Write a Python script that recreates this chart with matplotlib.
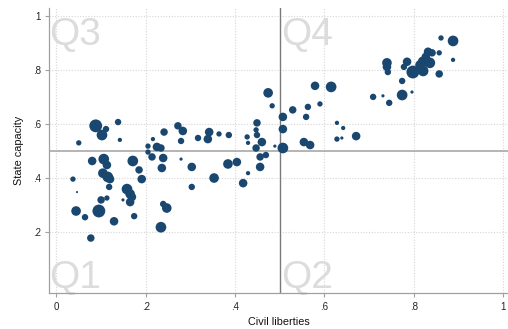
import numpy as np
import matplotlib
matplotlib.use("Agg")
import matplotlib.pyplot as plt

plt.rcParams['font.family'] = ['Liberation Sans', 'DejaVu Sans']

# civil liberties (x), state capacity (y), marker weight (population)
civil_liberties = [
    .050, .088, .102, .111, .138, .142, .205, .216, .225, .234, .241, .272, .283, .279,
    .317, .342, .339, .364, .386, .427, .429, .449, .447, .449, .460, .447, .474, .483, .489,
    .205, .214, .239, .236, .279, .080, .106, .113, .104, .115, .120, .171, .185, .191,
    .037, .118, .046, .158, .165, .169, .165, .149, .100, .113, .044, .064, .095, .174,
    .129, .234, .239, .247, .077, .303, .303, .353, .384, .404, .418, .429, .456, .469, .456,
    .507, .507, .507, .529, .563, .590, .559, .579, .615, .554, .568, .628, .642, .628, .639, .671,
    .709, .731, .745, .774, .796, .774, .740, .740, .742, .785, .778, .798, .821, .814,
    .821, .827, .832, .841, .857, .836, .857, .861, .888, .888,
]
state_capacity = [
    .529, .592, .558, .580, .606, .540, .517, .543, .514, .510, .569, .592, .573, .536,
    .547, .569, .543, .562, .558, .551, .529, .603, .577, .558, .532, .510, .714, .666, .517,
    .495, .477, .473, .436, .469, .462, .469, .447, .417, .403, .395, .462, .429, .395,
    .395, .366, .347, .358, .340, .329, .310, .318, .318, .325, .277, .254, .277, .258,
    .239, .217, .303, .288, .177, .440, .366, .399, .451, .458, .380, .417, .477, .484, .440,
    .510, .580, .625, .651, .662, .673, .625, .740, .736, .532, .521, .603, .584, .543, .547, .554,
    .699, .703, .677, .706, .717, .758, .825, .810, .791, .829, .810, .791, .795, .817,
    .829, .847, .866, .862, .862, .825, .784, .917, .906, .836,
]
pop_weight = [
    5, 12, 10, 6, 6, 4, 5, 4, 8, 7, 7, 7, 8, 6,
    6, 8, 8, 5, 6, 5, 4, 7, 5, 6, 8, 7, 9, 5, 3,
    5, 7, 8, 8, 3, 8, 10, 8, 9, 10, 8, 10, 7, 8,
    5, 6, 2, 10, 9, 8, 8, 3, 7, 5, 9, 6, 12, 6,
    8, 10, 6, 9, 7, 8, 6, 9, 9, 8, 8, 4, 7, 6, 8,
    10, 8, 8, 7, 6, 5, 6, 8, 10, 8, 8, 4, 4, 5, 3, 8,
    6, 3, 6, 10, 3, 6, 9, 8, 6, 8, 6, 12, 10, 9,
    10, 8, 8, 7, 5, 10, 7, 5, 10, 4,
]

x_ticks = [0, .2, .4, .6, .8, 1]
x_ticklabels = ['0', '.2', '.4', '.6', '.8', '1']
y_ticks = [.2, .4, .6, .8, 1]
y_ticklabels = ['.2', '.4', '.6', '.8', '1']

navy = '#1a476f'

fig = plt.figure(figsize=(5.08, 3.29), dpi=100)
ax = fig.add_axes([0.097, 0.108, 0.903, 0.867])

sizes = (np.array(pop_weight) * 0.77) ** 2
ax.scatter(civil_liberties, state_capacity, s=sizes, color=navy, linewidths=0, zorder=3)

ax.axhline(0.5, color='#a8a8a8', lw=1.2, zorder=2)
ax.axvline(0.5, color='#7a7a7a', lw=1.0, zorder=2)

# quadrant labels
qkw = dict(fontsize=28, color='#dcdcdc', va='baseline', ha='left', zorder=1)
ax.text(-0.016, 0.891, 'Q3', **qkw)
ax.text(0.503, 0.891, 'Q4', **qkw)
ax.text(-0.016, -0.009, 'Q1', **qkw)
ax.text(0.503, -0.009, 'Q2', **qkw)

ax.set_xlim(-0.016, 1.011)
ax.set_ylim(-0.028, 1.027)
ax.set_xticks(x_ticks)
ax.set_xticklabels(x_ticklabels)
ax.set_yticks(y_ticks)
ax.set_yticklabels(y_ticklabels)
ax.grid(True, color='#d6d6d6', lw=0.8, ls=(0, (1, 1.5)), zorder=0)
ax.set_axisbelow(True)

for side in ['top', 'right']:
    ax.spines[side].set_visible(False)
for side in ['left', 'bottom']:
    ax.spines[side].set_color('#a0a0a0')
    ax.spines[side].set_linewidth(0.9)
ax.tick_params(colors='#a0a0a0', labelcolor='#222222', labelsize=7, length=3, width=0.8, pad=3)

ax.set_xlabel('Civil liberties', fontsize=7.8, color='#111111', labelpad=4)
ax.set_ylabel('State capacity', fontsize=7.8, color='#111111', labelpad=6)

fig.savefig('out.png', dpi=100, facecolor='white')
